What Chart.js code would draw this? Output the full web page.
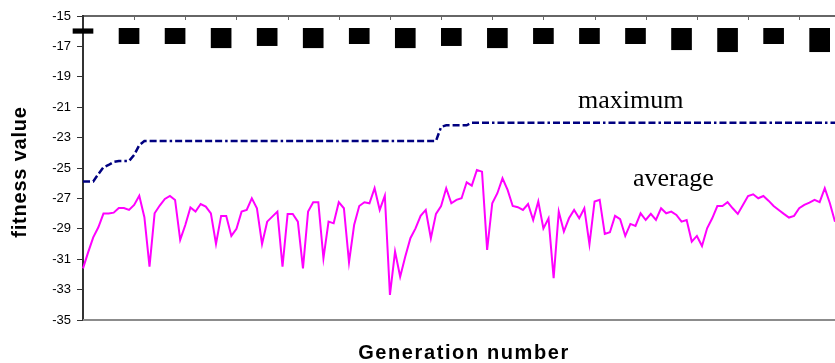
<!DOCTYPE html>
<html>
<head>
<meta charset="utf-8">
<script src="https://cdn.jsdelivr.net/npm/chart.js@4/dist/chart.umd.min.js"></script>
<style>
  html, body { margin: 0; padding: 0; background: #fff; overflow: hidden; }
  #wrap { position: relative; width: 835px; height: 363px; }
  canvas { display: block; }
</style>
</head>
<body>
<div id="wrap"><canvas id="c" width="835" height="363"></canvas></div>
<script>
// Average fitness of the population, one value per generation
const avgFitness = [
  -31.60, -30.55, -29.56, -28.90, -28.00, -28.00, -27.94, -27.63, -27.63, -27.76,
  -27.43, -26.82, -28.24, -31.49, -27.98, -27.47, -27.04, -26.84, -27.10, -29.73,
  -28.75, -27.60, -27.87, -27.37, -27.54, -27.98, -30.00, -28.15, -28.15, -29.47,
  -29.00, -27.87, -27.76, -26.99, -27.65, -30.00, -28.53, -28.20, -27.87, -31.49,
  -28.02, -28.02, -28.53, -31.60, -27.87, -27.25, -27.25, -30.94, -28.53, -28.64,
  -27.25, -27.65, -31.20, -28.75, -27.50, -27.25, -27.32, -26.33, -27.76, -26.82,
  -33.35, -30.50, -32.15, -30.83, -29.62, -28.97, -28.15, -27.76, -29.62, -28.02,
  -27.50, -26.33, -27.32, -27.10, -26.99, -25.94, -26.16, -25.13, -25.24, -30.39,
  -27.32, -26.66, -25.68, -26.44, -27.50, -27.58, -27.76, -27.37, -28.42, -27.20,
  -28.97, -28.31, -32.25, -27.87, -29.18, -28.31, -27.76, -28.31, -27.65, -30.02,
  -27.21, -27.10, -29.34, -29.23, -28.15, -28.37, -29.47, -28.68, -28.81, -27.98,
  -28.42, -28.02, -28.42, -27.65, -27.98, -27.87, -28.09, -28.53, -28.42, -29.84,
  -29.47, -30.13, -28.97, -28.31, -27.50, -27.50, -27.25, -27.65, -28.02, -27.43,
  -26.84, -26.73, -26.99, -26.84, -27.15, -27.50, -27.76, -28.02, -28.26, -28.15,
  -27.65, -27.43, -27.28, -27.10, -27.25, -26.33, -27.32, -28.53
];

// Best fitness found so far, one value per generation
const maxFitness = [
  -25.88, -25.88, -25.88, -25.40, -24.95, -24.80, -24.60, -24.54, -24.54, -24.54,
  -24.14, -23.50, -23.22, -23.22, -23.22, -23.22, -23.22, -23.22, -23.22, -23.22,
  -23.22, -23.22, -23.22, -23.22, -23.22, -23.22, -23.22, -23.22, -23.22, -23.22,
  -23.22, -23.22, -23.22, -23.22, -23.22, -23.22, -23.22, -23.22, -23.22, -23.22,
  -23.22, -23.22, -23.22, -23.22, -23.22, -23.22, -23.22, -23.22, -23.22, -23.22,
  -23.22, -23.22, -23.22, -23.22, -23.22, -23.22, -23.22, -23.22, -23.22, -23.22,
  -23.22, -23.22, -23.22, -23.22, -23.22, -23.22, -23.22, -23.22, -23.22, -23.22,
  -22.30, -22.19, -22.19, -22.19, -22.19, -22.19, -22.02, -22.02, -22.02, -22.02,
  -22.02, -22.02, -22.02, -22.02, -22.02, -22.02, -22.02, -22.02, -22.02, -22.02,
  -22.02, -22.02, -22.02, -22.02, -22.02, -22.02, -22.02, -22.02, -22.02, -22.02,
  -22.02, -22.02, -22.02, -22.02, -22.02, -22.02, -22.02, -22.02, -22.02, -22.02,
  -22.02, -22.02, -22.02, -22.02, -22.02, -22.02, -22.02, -22.02, -22.02, -22.02,
  -22.02, -22.02, -22.02, -22.02, -22.02, -22.02, -22.02, -22.02, -22.02, -22.02,
  -22.02, -22.02, -22.02, -22.02, -22.02, -22.02, -22.02, -22.02, -22.02, -22.02,
  -22.02, -22.02, -22.02, -22.02, -22.02, -22.02, -22.02, -22.02
];

// Generation numbers (x categories)
const generations = avgFitness.map((_, i) => i + 1);

// Value axis ticks
const yTicks = [-35, -33, -31, -29, -27, -25, -23, -21, -19, -17, -15];

// Solid blocks hanging under the top axis: generation index, upper and lower value
const blockAt     = [0, 9, 18, 27, 36, 45, 54, 63, 72, 81, 90, 99, 108, 117, 126, 135, 144];
const blockTop    = [-15.84, -15.81, -15.81, -15.81, -15.81, -15.81, -15.81, -15.81, -15.81,
                     -15.81, -15.81, -15.81, -15.81, -15.81, -15.81, -15.81, -15.81];
const blockBottom = [-16.14, -16.82, -16.82, -17.09, -16.95, -17.09, -16.82, -17.09, -16.95,
                     -17.09, -16.82, -16.82, -16.82, -17.22, -17.35, -16.82, -17.35];

const blockData = generations.map(() => null);
blockAt.forEach((g, k) => { blockData[g] = [blockTop[k], blockBottom[k]]; });

// Frame, top axis ticks, titles and series captions
const framePlugin = {
  id: 'frame',
  afterDatasetsDraw(chart) {
    const { ctx, chartArea: a, scales: { x } } = chart;
    ctx.save();
    // bottom border of plot area
    ctx.strokeStyle = '#8c8c8c';
    ctx.lineWidth = 2;
    ctx.beginPath();
    ctx.moveTo(a.left, a.bottom);
    ctx.lineTo(a.right, a.bottom);
    ctx.stroke();
    // top category axis with inward tick marks every 10 generations
    ctx.strokeStyle = '#333';
    ctx.lineWidth = 1.5;
    ctx.beginPath();
    ctx.moveTo(a.left, a.top);
    ctx.lineTo(a.right, a.top);
    ctx.stroke();
    ctx.strokeStyle = '#666';
    ctx.lineWidth = 1;
    for (let g = 10; g < generations.length; g += 10) {
      const px = Math.round(x.getPixelForValue(g)) + 0.5;
      ctx.beginPath();
      ctx.moveTo(px, a.top);
      ctx.lineTo(px, a.top + 4);
      ctx.stroke();
    }
    // series captions
    ctx.fillStyle = '#000';
    ctx.textAlign = 'left';
    ctx.textBaseline = 'alphabetic';
    ctx.font = '26px "Liberation Serif", "Times New Roman", serif';
    ctx.fillText('maximum', 578, 108);
    ctx.fillText('average', 633, 186);
    // axis titles
    ctx.font = 'bold 20px "Liberation Sans", Arial, sans-serif';
    ctx.textAlign = 'center';
    ctx.textBaseline = 'middle';
    ctx.letterSpacing = '1.6px';
    ctx.fillText('Generation number', 464, 353);
    ctx.letterSpacing = '0.8px';
    ctx.translate(20, 172);
    ctx.rotate(-Math.PI / 2);
    ctx.fillText('fitness value', 0, 0);
    ctx.restore();
  }
};

new Chart(document.getElementById('c'), {
  type: 'line',
  data: {
    labels: generations,
    datasets: [
      {
        type: 'bar',
        label: 'blocks',
        data: blockData,
        backgroundColor: '#000',
        borderWidth: 0,
        barThickness: 20,
        clip: false,
        order: 3
      },
      {
        label: 'maximum',
        data: maxFitness,
        borderColor: '#000080',
        borderWidth: 2.5,
        borderDash: [7, 3, 7, 3, 7, 3, 7, 3, 7, 3, 2.5, 3],
        pointRadius: 0,
        tension: 0,
        fill: false,
        order: 2
      },
      {
        label: 'average',
        data: avgFitness,
        borderColor: '#ff00ff',
        borderWidth: 2,
        pointRadius: 0,
        tension: 0,
        fill: false,
        order: 1
      }
    ]
  },
  options: {
    responsive: false,
    animation: false,
    devicePixelRatio: 1,
    layout: { padding: { top: 16, bottom: 43, left: 0, right: 0 } },
    plugins: { legend: { display: false }, tooltip: { enabled: false } },
    scales: {
      x: {
        type: 'category',
        display: false,
        offset: false,
        grid: { offset: false }
      },
      y: {
        min: yTicks[0],
        max: yTicks[yTicks.length - 1],
        afterBuildTicks: s => { s.ticks = yTicks.map(v => ({ value: v })); },
        afterFit: s => { s.width = 83; },
        ticks: {
          autoSkip: false,
          color: '#000',
          padding: 6,
          font: { family: '"Liberation Sans", Arial, sans-serif', size: 13 },
          callback: v => String(v)
        },
        grid: { drawOnChartArea: false, drawTicks: true, tickLength: 6, color: '#333', lineWidth: 1 },
        border: { display: true, color: '#333', width: 2 }
      }
    }
  },
  plugins: [framePlugin]
});
</script>
</body>
</html>
